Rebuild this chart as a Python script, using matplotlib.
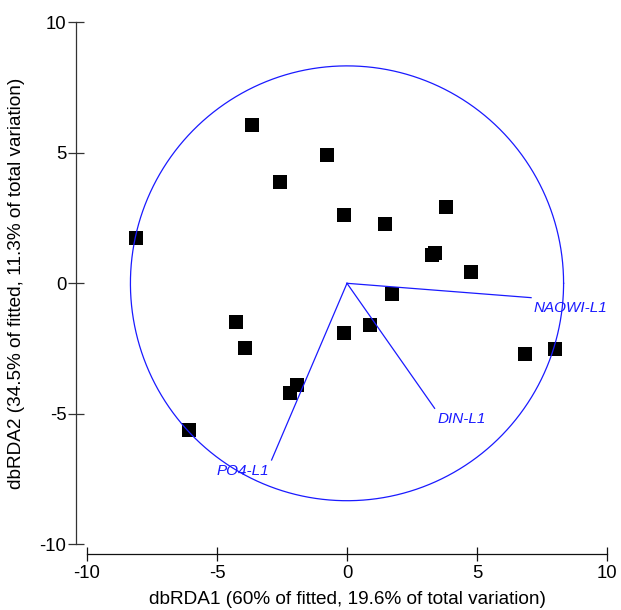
import matplotlib
matplotlib.use("Agg")
import matplotlib.pyplot as plt
import numpy as np

plt.rcParams['font.family'] = ['Liberation Sans', 'DejaVu Sans']

# sample scores
x_scores = [-8.12, -3.66, -0.76, -2.57, -0.10, 1.47, 3.81, 3.26, 3.40, 4.78,
            1.74, 0.89, -0.13, 6.86, 8.01, -4.27, -3.92, -1.92, -2.18, -6.07]
y_scores = [1.72, 6.05, 4.90, 3.90, 2.60, 2.26, 2.91, 1.07, 1.15, 0.42,
            -0.42, -1.61, -1.92, -2.72, -2.53, -1.49, -2.49, -3.91, -4.21, -5.63]

# predictor vectors
vec_names = ["NAOWI-L1", "DIN-L1", "PO4-L1"]
vec_x = [7.08, 3.37, -2.90]
vec_y = [-0.55, -4.79, -6.77]

circle_radius = 8.33

x_ticks = [-10, -5, 0, 5, 10]
y_ticks = [-10, -5, 0, 5, 10]
xlabel = "dbRDA1 (60% of fitted, 19.6% of total variation)"
ylabel = "dbRDA2 (34.5% of fitted, 11.3% of total variation)"

W, H = 621, 610
fig = plt.figure(figsize=(W / 100, H / 100), dpi=100)
ax = fig.add_axes([0, 0, 1, 1])
ax.patch.set_alpha(0)

# pixel mapping: x data 0 at px 347, 26 px/unit; y data 0 at py 283.3, 26.1 px/unit
ax.set_xlim((0 - 347) / 26.0, (W - 347) / 26.0)
ax.set_ylim((283.3 - H) / 26.1, 283.3 / 26.1)

blue = '#1a1aff'

ax.plot(x_scores, y_scores, 's', color='black', markersize=9.4,
        markeredgewidth=0, zorder=2)

theta = np.linspace(0, 2 * np.pi, 400)
ax.plot(circle_radius * np.cos(theta), circle_radius * np.sin(theta),
        color=blue, lw=0.9, zorder=3)

for name, vx, vy in zip(vec_names, vec_x, vec_y):
    ax.plot([0, vx], [0, vy], color=blue, lw=0.9, zorder=3)
    if vx >= 0:
        ax.annotate(name, (vx, vy), xytext=(2, -10.5), textcoords='offset points',
                    ha='left', va='baseline', style='italic', fontsize=11,
                    color=blue, zorder=4)
    else:
        ax.annotate(name, (vx, vy), xytext=(-2, -10.5), textcoords='offset points',
                    ha='right', va='baseline', style='italic', fontsize=11,
                    color=blue, zorder=4)

for s in ['top', 'right']:
    ax.spines[s].set_visible(False)
ax.spines['left'].set_position(('data', (76 - 347) / 26.0))
ax.spines['left'].set_bounds(-10, 10)
ax.spines['bottom'].set_position(('data', (283.3 - 554) / 26.1))
ax.spines['bottom'].set_bounds(-10, 10)
ax.spines['left'].set_color('#333333')
ax.spines['bottom'].set_color('#111111')
ax.spines['left'].set_linewidth(0.9)
ax.spines['bottom'].set_linewidth(0.9)

ax.set_xticks(x_ticks)
ax.set_yticks(y_ticks)
ax.set_xticklabels([str(t) for t in x_ticks])
ax.set_yticklabels([str(t) for t in y_ticks])
ax.tick_params(axis='x', direction='inout', length=10, width=0.9, color='#111111',
               labelsize=13.3, pad=3)
ax.tick_params(axis='y', direction='inout', length=12, width=0.9, color='#333333',
               labelsize=13.3, pad=1)

fig.text(347 / W, 1 - 599 / H, xlabel, ha='center', va='center', fontsize=13.7)
fig.text(17 / W, 1 - 283 / H, ylabel, ha='center', va='center', fontsize=13.7,
         rotation=90)

fig.savefig("out.png", dpi=100)
